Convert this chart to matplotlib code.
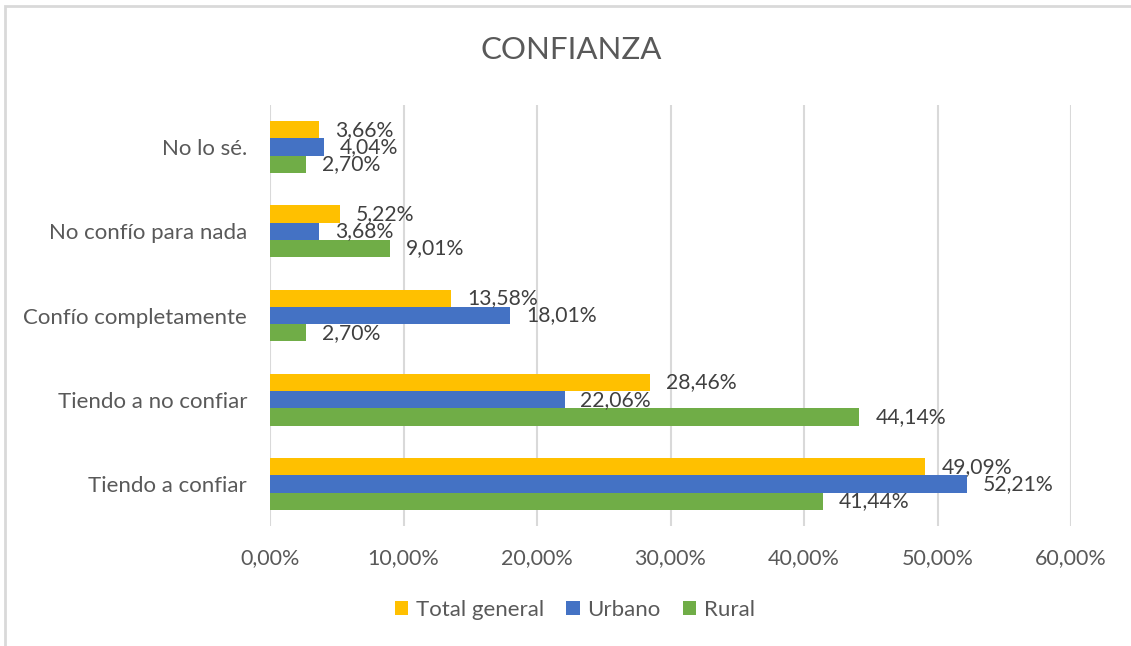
import matplotlib
matplotlib.use("Agg")
import matplotlib.pyplot as plt
import numpy as np
from matplotlib.patches import Rectangle

plt.rcParams['font.family'] = ['Lato', 'DejaVu Sans']

# datos (porcentajes)
categorias = ["Tiendo a confiar", "Tiendo a no confiar", "Confío completamente",
              "No confío para nada", "No lo sé."]
total_general = [49.09, 28.46, 13.58, 5.22, 3.66]
urbano = [52.21, 22.06, 18.01, 3.68, 4.04]
rural = [41.44, 44.14, 2.70, 9.01, 2.70]
series = ["Total general", "Urbano", "Rural"]
colores = ["#FFC000", "#4472C4", "#70AD47"]
xticks = [0, 10, 20, 30, 40, 50, 60]

W, H = 1131, 646
fig = plt.figure(figsize=(W / 100, H / 100), dpi=100)
ax = fig.add_axes([270 / W, 1 - 526 / H, (1071 - 270) / W, (526 - 105) / H])

# marco del gráfico (solo se ven arriba e izquierda)
fig.patches.append(Rectangle((5 / W, -0.1), 1.2, 1 - 6 / H + 0.1, transform=fig.transFigure,
                             fill=False, edgecolor="#D9D9D9", linewidth=2))

y = np.arange(len(categorias))
h = 0.205
valores = [total_general, urbano, rural]
offsets = [h, 0, -h]

for vals, off, col, nombre in zip(valores, offsets, colores, series):
    bars = ax.barh(y + off, vals, height=h, color=col, label=nombre, zorder=3)
    for b, v in zip(bars, vals):
        ax.annotate(f"{v:.2f}%".replace(".", ","),
                    xy=(b.get_width(), b.get_y() + b.get_height() / 2),
                    xytext=(11.5, 0), textcoords="offset points",
                    ha="left", va="center", fontsize=15.2, color="#404040", zorder=4)

ax.set_xlim(0, 60)
ax.set_ylim(-0.5, len(categorias) - 0.5)
ax.set_xticks(xticks)
ax.set_xticklabels([f"{t:.2f}%".replace(".", ",") for t in xticks], fontsize=15.5, color="#595959")
ax.set_yticks(y)
ax.set_yticklabels(categorias, fontsize=16, color="#595959")
ax.tick_params(axis="both", length=0)
ax.tick_params(axis="x", pad=16)
ax.tick_params(axis="y", pad=16.5)
ax.grid(axis="x", color="#D9D9D9", linewidth=1.5, zorder=0)
for s in ax.spines.values():
    s.set_visible(False)

fig.text(571 / W, 1 - 50 / H, "CONFIANZA", ha="center", va="center",
         fontsize=22.5, color="#595959")

fig.legend(loc="center", bbox_to_anchor=(575 / W, 1 - 610 / H), ncol=3, frameon=False,
           fontsize=16, labelcolor="#595959", handlelength=0.6, handleheight=0.6,
           handletextpad=0.35, columnspacing=1.0)

plt.savefig("out.png", dpi=100)
